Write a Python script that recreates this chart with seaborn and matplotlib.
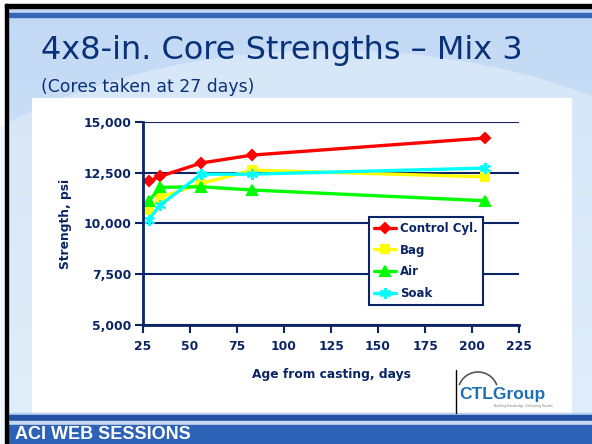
import numpy as np
import pandas as pd
import matplotlib
matplotlib.use("Agg")
import matplotlib.pyplot as plt
from matplotlib.patches import Rectangle, Ellipse, Arc
from matplotlib.ticker import FuncFormatter
import seaborn as sns

days = [28, 34, 56, 83, 207]
control = [12070, 12320, 12980, 13370, 14210]
bag = [10660, 11280, 11970, 12630, 12300]
air = [11085, 11780, 11810, 11650, 11120]
soak = [10180, 10900, 12430, 12430, 12730]
series_names = ["Control Cyl.", "Bag", "Air", "Soak"]
x_ticks = [25, 50, 75, 100, 125, 150, 175, 200, 225]
y_ticks = [5000, 7500, 10000, 12500, 15000]

sns.set_style("white")
plt.rcParams["font.family"] = ["DejaVu Sans"]

navy = "#0b2466"
title_blue = "#0a3278"

fig = plt.figure(figsize=(5.92, 4.44), dpi=100, facecolor="white")
W, H = 592, 444

# slide background
bg = fig.add_axes([0, 0, 1, 1], zorder=-10)
grad = np.linspace(0, 1, 256).reshape(-1, 1)
bg.imshow(np.dstack([0.76 + 0.1 * grad, 0.85 + 0.07 * grad, 0.96 + 0.02 * grad]),
          extent=[8, W, H, 8], aspect="auto", zorder=0.5)
bg.add_patch(Ellipse((330, 360), 1000, 620, facecolor="#e6f1fb", edgecolor="none",
                     alpha=0.55, zorder=1))
bg.add_patch(Rectangle((5, 4), W, 4, color="black", zorder=4))
bg.add_patch(Rectangle((5, 4), 3, H, color="black", zorder=4))
bg.add_patch(Rectangle((8, 13), W, 4, color="#3566b8", zorder=2))
bg.add_patch(Rectangle((32, 98), 540, 315, facecolor="white", edgecolor="none", zorder=2))
bg.add_patch(Rectangle((8, 413), W, 2, color="#b8cfee", zorder=2))
bg.add_patch(Rectangle((8, 415), W, 6, color="#2453a6", zorder=2))
bg.add_patch(Rectangle((8, 421), W, 4, color="#c6d8f2", zorder=2))
bg.add_patch(Rectangle((8, 425), W, 20, color="#2e62b6", zorder=2))
bg.set_xlim(0, W); bg.set_ylim(H, 0); bg.axis("off")
bg.text(15, 439, "ACI WEB SESSIONS", color="white", fontsize=13, fontweight="bold",
        va="baseline", ha="left", family="Liberation Sans", zorder=3)
bg.text(41, 59, "4x8-in. Core Strengths \u2013 Mix 3", color=title_blue, fontsize=23,
        va="baseline", ha="left", zorder=3)
bg.text(41, 92, "(Cores taken at 27 days)", color=title_blue, fontsize=12.4,
        va="baseline", ha="left", zorder=3)
bg.plot([456, 456], [370, 413], color="black", lw=1, zorder=3)
bg.add_patch(Arc((478, 392), 40, 40, theta1=200, theta2=340, color="#555555", lw=1.2, zorder=3))
bg.text(459, 399, "CTLGroup", color="#1f6fb5", fontsize=12.5, fontweight="bold",
        va="baseline", ha="left", family="Liberation Sans", zorder=3)
bg.text(494, 407, "Building Knowledge. Delivering Results.", color="#777777", fontsize=2.2,
        va="baseline", ha="left", zorder=3)

ax = fig.add_axes([143 / W, 1 - 325 / H, 376 / W, 203 / H])
ax.set_facecolor("white")
colors = ["#ff0000", "#ffff00", "#00ff00", "#00ffff"]
mks = ["D", "s", "^", (6, 2, 0)]
sizes = [5.5, 5.5, 6.5, 8]
for name, vals, c, m, ms in zip(series_names, [control, bag, air, soak], colors, mks, sizes):
    sns.lineplot(x=days, y=vals, color=c, marker=m, lw=2.4, markersize=ms,
                 markeredgewidth=1.5, markeredgecolor=c, label=name, ax=ax)

ax.set_xlim(25, 225)
ax.set_ylim(5000, 15000)
ax.set_xticks(x_ticks)
ax.set_yticks(y_ticks)
ax.yaxis.set_major_formatter(FuncFormatter(lambda v, p: f"{int(v):,}"))
ax.grid(axis="y", color=navy, lw=1.5)
ax.set_axisbelow(True)
for s in ["top", "right"]:
    ax.spines[s].set_visible(False)
for s in ["left", "bottom"]:
    ax.spines[s].set_color(navy)
    ax.spines[s].set_linewidth(2)
ax.tick_params(axis="both", direction="out", length=5.5, width=1.5, color=navy,
               labelcolor=navy, labelsize=8.8, left=True, bottom=True)
ax.tick_params(axis="y", pad=3)
ax.tick_params(axis="x", pad=5)
for t in ax.get_xticklabels() + ax.get_yticklabels():
    t.set_fontweight("bold")
ax.set_xlabel("Age from casting, days", color=navy, fontsize=8.8, fontweight="bold", labelpad=11)
ax.set_ylabel("Strength, psi", color=navy, fontsize=8.8, fontweight="bold", labelpad=8)

leg = ax.legend(loc="upper left", bbox_to_anchor=((369 - 143) / 376, 1 - (217 - 122) / 203),
                borderaxespad=0, frameon=True, fancybox=False, borderpad=0.4,
                handlelength=1.9, handletextpad=0.35, labelspacing=0.75,
                prop={"weight": "bold", "size": 8.5})
leg.get_frame().set_edgecolor(navy)
leg.get_frame().set_linewidth(1.5)
leg.get_frame().set_alpha(1)
for t in leg.get_texts():
    t.set_color(navy)

fig.savefig("out.png", dpi=100, facecolor="white")
